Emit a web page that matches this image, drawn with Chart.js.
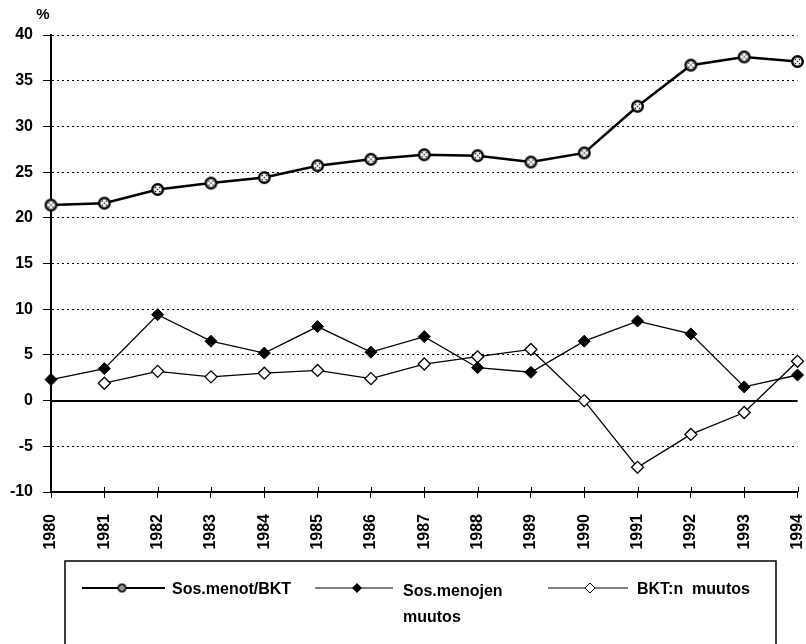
<!DOCTYPE html>
<html>
<head>
<meta charset="utf-8">
<script src="https://cdn.jsdelivr.net/npm/chart.js@4/dist/chart.umd.min.js"></script>
<style>
  html, body { margin: 0; padding: 0; background: #fff; }
  canvas { display: block; }
</style>
</head>
<body>
<canvas id="c" width="806" height="644"></canvas>
<script>
const years = ['1980','1981','1982','1983','1984','1985','1986','1987','1988','1989','1990','1991','1992','1993','1994'];
const sosMenotBKT = [21.4, 21.6, 23.1, 23.8, 24.4, 25.7, 26.4, 26.9, 26.8, 26.1, 27.1, 32.2, 36.7, 37.6, 37.1];
const sosMenojenMuutos = [2.3, 3.5, 9.4, 6.5, 5.2, 8.1, 5.3, 7.0, 3.6, 3.1, 6.5, 8.7, 7.3, 1.5, 2.8];
const bktMuutos = [null, 1.9, 3.2, 2.6, 3.0, 3.3, 2.4, 4.0, 4.8, 5.6, 0.0, -7.3, -3.7, -1.3, 4.3];
const seriesNames = ['Sos.menot/BKT', 'Sos.menojen muutos', 'BKT:n  muutos'];
const yMin = -10, yMax = 40, yStep = 5;

const FONT = '"Liberation Sans", Arial, sans-serif';

function makeRing(r) {
  const s = Math.ceil(r * 2 + 4);
  const c = document.createElement('canvas');
  c.width = s; c.height = s;
  const g = c.getContext('2d');
  const m = s / 2;
  g.fillStyle = '#000';
  g.beginPath(); g.arc(m, m, r, 0, Math.PI * 2); g.fill();
  g.fillStyle = '#fff';
  g.beginPath(); g.arc(m, m, r * 0.62, 0, Math.PI * 2); g.fill();
  g.fillStyle = '#000';
  const d = r * 0.32;
  [[0,0],[d,d],[-d,d],[d,-d],[-d,-d]].forEach(p => {
    g.fillRect(m + p[0] - 0.7, m + p[1] - 0.7, 1.4, 1.4);
  });
  return c;
}
const ringBig = makeRing(6.5);
const ringSmall = makeRing(4.5);

const extras = {
  id: 'extras',
  beforeDatasetsDraw(chart) {
    const ctx = chart.ctx;
    const y = chart.scales.y, x = chart.scales.x;
    const a = chart.chartArea;
    ctx.save();
    ctx.strokeStyle = '#000';
    ctx.lineWidth = 2;
    ctx.setLineDash([]);
    const y0 = Math.round(y.getPixelForValue(0));
    ctx.beginPath(); ctx.moveTo(a.left, y0); ctx.lineTo(a.right, y0); ctx.stroke();
    ctx.lineWidth = 1;
    years.forEach((lab, i) => {
      const px = Math.round(x.getPixelForValue(i)) + 0.5;
      ctx.beginPath(); ctx.moveTo(px, a.bottom - 5); ctx.lineTo(px, a.bottom); ctx.stroke();
    });
    ctx.restore();
  },
  afterDraw(chart) {
    const ctx = chart.ctx;
    ctx.save();
    ctx.fillStyle = '#000';
    ctx.font = 'bold 15px ' + FONT;
    ctx.textAlign = 'center';
    ctx.textBaseline = 'middle';
    ctx.fillText('%', 43, 15);

    ctx.strokeStyle = '#000';
    ctx.lineWidth = 1.5;
    ctx.strokeRect(65, 561, 711, 120);

    ctx.font = 'bold 16px ' + FONT;
    ctx.textAlign = 'left';
    ctx.textBaseline = 'middle';
    const ly = 588;
    ctx.lineWidth = 2;
    ctx.beginPath(); ctx.moveTo(82, ly); ctx.lineTo(165, ly); ctx.stroke();
    ctx.drawImage(ringSmall, 122 - ringSmall.width / 2, ly - ringSmall.height / 2);
    ctx.fillText(seriesNames[0], 172, ly + 2);
    ctx.lineWidth = 1;
    ctx.beginPath(); ctx.moveTo(315, ly); ctx.lineTo(393, ly); ctx.stroke();
    ctx.beginPath();
    ctx.moveTo(357, ly - 5); ctx.lineTo(362, ly); ctx.lineTo(357, ly + 5); ctx.lineTo(352, ly); ctx.closePath();
    ctx.fill();
    ctx.fillText('Sos.menojen', 403, ly + 4);
    ctx.fillText('muutos', 403, ly + 30);
    ctx.beginPath(); ctx.moveTo(548, ly); ctx.lineTo(628, ly); ctx.stroke();
    ctx.beginPath();
    ctx.moveTo(590, ly - 5); ctx.lineTo(595, ly); ctx.lineTo(590, ly + 5); ctx.lineTo(585, ly); ctx.closePath();
    ctx.fillStyle = '#fff'; ctx.fill();
    ctx.strokeStyle = '#000'; ctx.stroke();
    ctx.fillStyle = '#000';
    ctx.fillText(seriesNames[2], 637, ly + 2);
    ctx.restore();
  }
};

new Chart(document.getElementById('c'), {
  type: 'line',
  data: {
    labels: years,
    datasets: [
      {
        label: seriesNames[0],
        data: sosMenotBKT,
        borderColor: '#000',
        borderWidth: 2.5,
        pointStyle: ringBig,
        pointRadius: 6,
        clip: false,
        tension: 0
      },
      {
        label: seriesNames[1],
        data: sosMenojenMuutos,
        borderColor: '#000',
        borderWidth: 1.3,
        pointStyle: 'rectRot',
        pointRadius: 6,
        pointBackgroundColor: '#000',
        pointBorderColor: '#000',
        pointBorderWidth: 1,
        clip: false,
        tension: 0
      },
      {
        label: seriesNames[2],
        data: bktMuutos,
        borderColor: '#000',
        borderWidth: 1.3,
        pointStyle: 'rectRot',
        pointRadius: 6,
        pointBackgroundColor: '#fff',
        pointBorderColor: '#000',
        pointBorderWidth: 1.3,
        clip: false,
        spanGaps: false,
        tension: 0
      }
    ]
  },
  options: {
    responsive: false,
    animation: false,
    devicePixelRatio: 1,
    layout: { padding: { left: 0, right: 5, top: 35, bottom: 0 } },
    plugins: { legend: { display: false }, tooltip: { enabled: false }, title: { display: false } },
    scales: {
      x: {
        type: 'category',
        offset: false,
        afterFit(s) { s.height = 152; s.paddingLeft = 0; s.paddingRight = 0; },
        grid: { drawOnChartArea: false, drawTicks: true, tickLength: 6, color: '#000', tickColor: '#000', lineWidth: 1 },
        border: { display: true, color: '#000', width: 2 },
        ticks: {
          color: '#000',
          font: { family: FONT, size: 16, weight: 'bold' },
          minRotation: 90, maxRotation: 90,
          autoSkip: false,
          padding: 16
        }
      },
      y: {
        min: yMin, max: yMax,
        afterFit(s) { s.width = 51; s.paddingTop = 0; s.paddingBottom = 0; },
        grid: {
          color: '#000', lineWidth: 1,
          tickLength: 8, tickColor: '#000', tickBorderDash: [], tickWidth: 1
        },
        border: { display: true, color: '#000', width: 2, dash: [2, 3] },
        ticks: {
          stepSize: yStep,
          color: '#000',
          font: { family: FONT, size: 16, weight: 'bold' },
          padding: 10
        }
      }
    }
  },
  plugins: [extras]
});
</script>
</body>
</html>
